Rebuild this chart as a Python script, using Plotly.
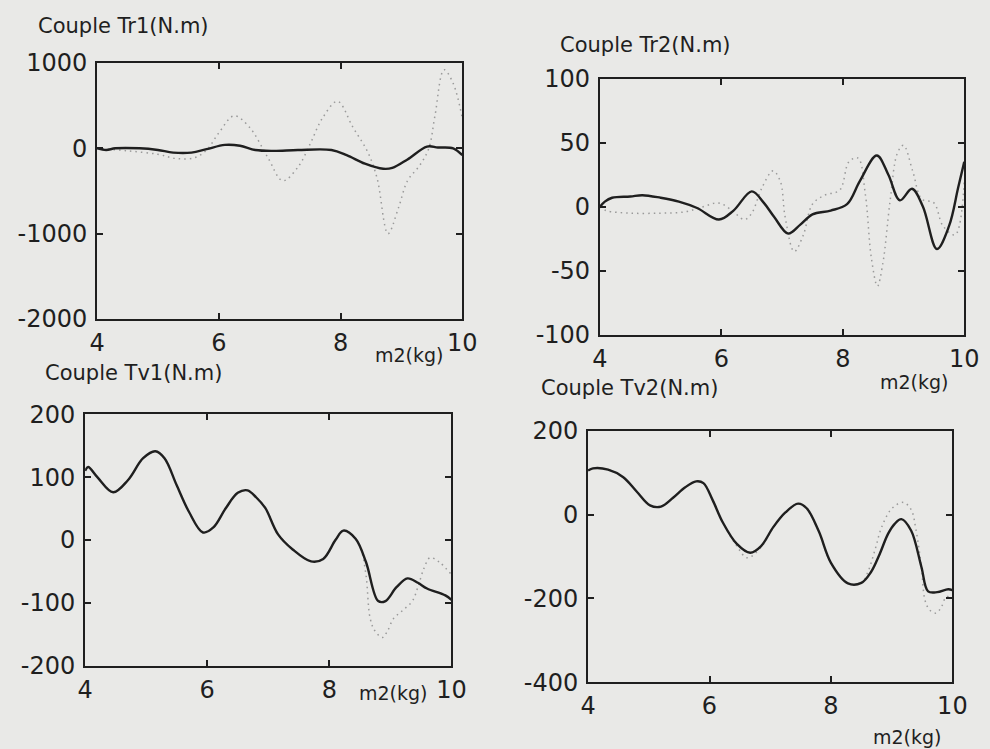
import plotly.graph_objects as go
from plotly.subplots import make_subplots

# ---- data: torques versus mass m2 (kg) ----
mass_ticks = [4, 6, 8, 10]
mass_tick_text = ["4", "6", "8", "10"]

# Tr1
tr1_x = [4.0, 4.15, 4.3, 4.7, 5.0, 5.25, 5.55, 5.8, 6.1, 6.35, 6.6, 6.9, 7.3, 7.85,
         8.1, 8.4, 8.7, 8.85, 9.1, 9.42, 9.6, 9.85, 10.0]
tr1_solid = [0, -20, 0, 0, -20, -50, -50, -10, 40, 30, -20, -30, -20, -20,
             -80, -180, -240, -230, -130, 20, 10, 0, -80]
tr1_dot_x = [4.0, 4.5, 5.0, 5.3, 5.6, 5.8, 6.0, 6.25, 6.5, 6.8, 7.05, 7.3, 7.5, 7.7,
             7.95, 8.2, 8.45, 8.6, 8.78, 8.95, 9.1, 9.3, 9.45, 9.55, 9.7, 9.85, 10.0]
tr1_dotted = [0, -30, -70, -120, -110, -20, 180, 380, 250, -100, -380, -220, 50, 350,
              550, 250, -50, -350, -1000, -700, -380, -200, 0, 380, 920, 760, 350]
tr1_ticks = [-2000, -1000, 0, 1000]
tr1_tick_text = ["-2000", "-1000", "0", "1000"]

# Tr2
tr2_x = [4.0, 4.08, 4.2, 4.5, 4.7, 5.0, 5.3, 5.6, 5.96, 6.2, 6.5, 6.7, 6.87, 7.1,
         7.3, 7.5, 7.8, 8.07, 8.28, 8.56, 8.75, 8.94, 9.14, 9.32, 9.55, 9.75, 9.9, 10.0]
tr2_solid = [0, 4, 7, 8, 9, 7, 4, -1, -10, -3, 12, 3, -8, -21,
             -14, -6, -3, 2, 20, 40, 25, 5, 14, 0, -33, -15, 15, 35]
tr2_dot_x = [4.0, 4.1, 4.5, 5.0, 5.4, 5.7, 5.95, 6.15, 6.38, 6.5, 6.67, 6.85, 6.97,
             7.05, 7.2, 7.35, 7.5, 7.7, 7.95, 8.1, 8.25, 8.37, 8.47, 8.57, 8.66, 8.78,
             8.9, 9.0, 9.15, 9.3, 9.5, 9.65, 9.85, 10.0]
tr2_dotted = [0, -3, -5, -5, -4, 0, 3, -2, -10, -5, 15, 28, 20,
              -8, -35, -22, 2, 9, 13, 35, 38, 10, -40, -62, -44, 5,
              42, 48, 28, 6, 3, -15, -22, 20]
tr2_ticks = [-100, -50, 0, 50, 100]
tr2_tick_text = ["-100", "-50", "0", "50", "100"]

# Tv1
tv1_x = [4.0, 4.05, 4.2, 4.46, 4.7, 4.95, 5.15, 5.3, 5.5, 5.7, 5.93, 6.1, 6.3, 6.5,
         6.66, 6.8, 6.95, 7.16, 7.4, 7.7, 7.9, 8.1, 8.23, 8.43, 8.6, 8.8, 8.92, 9.1,
         9.28, 9.45, 9.6, 9.9, 10.0]
tv1_solid = [110, 116, 100, 76, 95, 130, 141, 130, 87, 45, 12, 20, 50, 75,
             79, 68, 51, 9, -15, -34, -30, 0, 15, 2, -35, -97, -97, -75,
             -61, -68, -77, -88, -95]
tv1_dot_x = [4.0, 4.05, 4.2, 4.46, 4.7, 4.95, 5.15, 5.3, 5.5, 5.7, 5.93, 6.1, 6.3, 6.5,
             6.66, 6.8, 6.95, 7.16, 7.4, 7.7, 7.9, 8.1, 8.23, 8.43, 8.52, 8.6, 8.67,
             8.75, 8.87, 8.95, 9.05, 9.2, 9.36, 9.45, 9.55, 9.65, 9.8, 10.0]
tv1_dotted = [110, 116, 100, 76, 95, 130, 141, 130, 87, 45, 12, 20, 50, 75,
              79, 68, 51, 9, -15, -34, -30, 0, 15, 2, -15, -55, -125,
              -145, -155, -145, -125, -112, -97, -75, -45, -28, -35, -55]
tv1_ticks = [-200, -100, 0, 100, 200]
tv1_tick_text = ["-200", "-100", "0", "100", "200"]

# Tv2
tv2_x = [4.0, 4.08, 4.33, 4.58, 4.8, 5.02, 5.2, 5.4, 5.6, 5.78, 5.9, 6.05, 6.22, 6.45,
         6.67, 6.85, 7.05, 7.25, 7.46, 7.6, 7.8, 8.0, 8.28, 8.5, 8.66, 8.8, 8.94, 9.05,
         9.16, 9.32, 9.49, 9.6, 9.75, 9.93, 10.0]
tv2_solid = [105, 110, 107, 89, 55, 22, 19, 40, 65, 79, 75, 35, -19, -70,
             -91, -75, -30, 5, 26, 15, -40, -115, -164, -163, -137, -95, -46, -22,
             -11, -38, -125, -183, -185, -178, -180]
tv2_dot_x = [4.0, 4.08, 4.33, 4.58, 4.8, 5.02, 5.2, 5.4, 5.6, 5.78, 5.9, 6.05, 6.22, 6.45,
             6.62, 6.85, 7.05, 7.25, 7.46, 7.6, 7.8, 8.0, 8.28, 8.5, 8.6, 8.73, 8.83,
             9.0, 9.19, 9.32, 9.4, 9.49, 9.55, 9.63, 9.73, 9.82, 9.9, 10.0]
tv2_dotted = [105, 110, 107, 89, 55, 22, 19, 40, 65, 79, 75, 35, -19, -75,
              -103, -78, -30, 5, 26, 15, -40, -115, -164, -163, -140, -82, -32,
              14, 29, 12, -36, -125, -205, -228, -235, -220, -196, -200]
tv2_ticks = [-400, -200, 0, 200]
tv2_tick_text = ["-400", "-200", "0", "200"]

panels = [
    dict(title="Couple Tr1(N.m)", x=tr1_x, y=tr1_solid, dx=tr1_dot_x, dy=tr1_dotted,
         yr=[-2000, 1000], yt=tr1_ticks, ytt=tr1_tick_text,
         xd=[0.098, 0.467], yd=[0.574, 0.916], tpos=(0.036, 0.965), mpos=(0.414, 0.526)),
    dict(title="Couple Tr2(N.m)", x=tr2_x, y=tr2_solid, dx=tr2_dot_x, dy=tr2_dotted,
         yr=[-100, 100], yt=tr2_ticks, ytt=tr2_tick_text,
         xd=[0.606, 0.974], yd=[0.553, 0.895], tpos=(0.564, 0.940), mpos=(0.924, 0.490)),
    dict(title="Couple Tv1(N.m)", x=tv1_x, y=tv1_solid, dx=tv1_dot_x, dy=tv1_dotted,
         yr=[-200, 200], yt=tv1_ticks, ytt=tv1_tick_text,
         xd=[0.086, 0.456], yd=[0.111, 0.447], tpos=(0.043, 0.502), mpos=(0.397, 0.075)),
    dict(title="Couple Tv2(N.m)", x=tv2_x, y=tv2_solid, dx=tv2_dot_x, dy=tv2_dotted,
         yr=[-400, 200], yt=tv2_ticks, ytt=tv2_tick_text,
         xd=[0.594, 0.962], yd=[0.089, 0.425], tpos=(0.544, 0.482), mpos=(0.917, 0.016)),
]

INK = "#1f1f1f"
PAPER = "#e9e9e7"
FONT = "DejaVu Sans"

fig = make_subplots(rows=2, cols=2)

for i, p in enumerate(panels):
    r, c = i // 2 + 1, i % 2 + 1
    fig.add_trace(go.Scatter(x=p["dx"], y=p["dy"], mode="lines",
                             line=dict(color="#9a9a9a", width=1.5, dash="1.5px,4px",
                                       shape="spline"),
                             showlegend=False, hoverinfo="skip"), row=r, col=c)
    fig.add_trace(go.Scatter(x=p["x"], y=p["y"], mode="lines",
                             line=dict(color=INK, width=2.4, shape="spline"),
                             showlegend=False), row=r, col=c)
    axis_common = dict(showline=True, linecolor=INK, linewidth=2, mirror="ticks",
                       ticks="inside", ticklen=6, tickwidth=1.5, tickcolor=INK,
                       showgrid=False, zeroline=False, automargin=False,
                       tickfont=dict(family=FONT, size=24, color=INK))
    fig.update_xaxes(range=[4, 10], tickvals=mass_ticks, ticktext=mass_tick_text,
                     domain=p["xd"], ticklabelstandoff=1, **axis_common, row=r, col=c)
    fig.update_yaxes(range=p["yr"], tickvals=p["yt"], ticktext=p["ytt"],
                     domain=p["yd"], ticklabelstandoff=3, **axis_common, row=r, col=c)
    fig.add_annotation(text=p["title"], xref="paper", yref="paper",
                       x=p["tpos"][0], y=p["tpos"][1], xanchor="left", yanchor="middle",
                       showarrow=False, font=dict(family=FONT, size=21, color=INK))
    fig.add_annotation(text="m2(kg)", xref="paper", yref="paper",
                       x=p["mpos"][0], y=p["mpos"][1], xanchor="center", yanchor="middle",
                       showarrow=False, font=dict(family=FONT, size=19, color=INK))

fig.update_layout(width=990, height=749, margin=dict(l=0, r=0, t=0, b=0),
                  paper_bgcolor=PAPER, plot_bgcolor=PAPER, showlegend=False)

fig.write_html("out.html")
